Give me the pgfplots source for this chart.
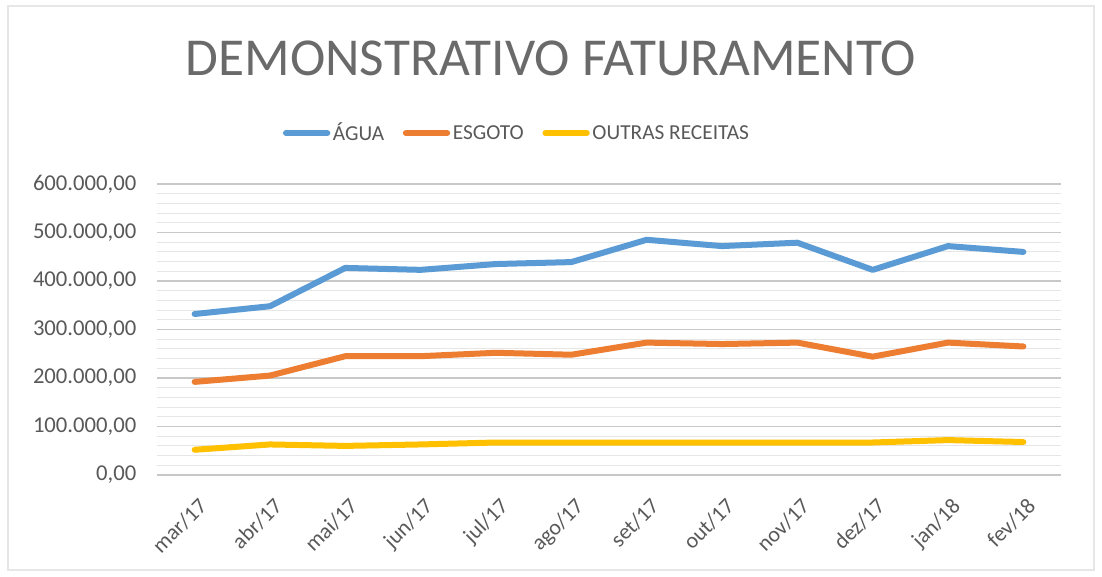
\documentclass[border=0pt]{standalone}
\usepackage{pgfplots}
\pgfplotsset{compat=1.18}
\usepackage{fontspec}
\setmainfont{Carlito}
\definecolor{agua}{HTML}{5B9BD5}
\definecolor{esgoto}{HTML}{ED7D31}
\definecolor{outras}{HTML}{FFC000}
\definecolor{txt}{HTML}{595959}
\definecolor{ttl}{HTML}{6A6A6A}
\definecolor{majgrid}{HTML}{C8C8C8}
\definecolor{mingrid}{HTML}{E6E6E6}
\begin{document}
\begin{tikzpicture}
\fill[white] (0,0) rectangle (826.5pt,432pt);
\draw[color=mingrid, line width=1pt] (6pt,4.5pt) rectangle (820.5pt,427.5pt);
\useasboundingbox (0,0) rectangle (826.5pt,432pt);
\node[font=\fontsize{40}{44}\selectfont, text=ttl] at (413.25pt,388.5pt) {DEMONSTRATIVO FATURAMENTO};
\begin{axis}[
  at={(117.75pt,75.75pt)}, anchor=south west,
  scale only axis, width=678pt, height=218.25pt,
  xmin=-0.5, xmax=11.5, ymin=0, ymax=600000,
  axis line style={draw=none},
  tick style={draw=none},
  scaled y ticks=false,
  xtick={0,...,11},
  xticklabels={mar/17,abr/17,mai/17,jun/17,jul/17,ago/17,set/17,out/17,nov/17,dez/17,jan/18,fev/18},
  x tick label style={yshift=-13pt, xshift=2pt, rotate=45, anchor=north east, font=\fontsize{16.5}{20}\selectfont, text=txt, inner sep=2pt},
  ytick={0,100000,200000,300000,400000,500000,600000},
  yticklabels={{0,00},{100.000,00},{200.000,00},{300.000,00},{400.000,00},{500.000,00},{600.000,00}},
  y tick label style={font=\fontsize{17}{20}\selectfont, text=txt, xshift=-12pt},
  minor y tick num=4,
  ymajorgrids, yminorgrids,
  major grid style={color=majgrid, line width=1pt},
  minor grid style={color=mingrid, line width=0.8pt},
  legend columns=3,
  legend style={draw=none, fill=none, at={(0.3986,1.175)}, anchor=center, font=\fontsize{16}{19}\selectfont, text=txt,
    /tikz/every even column/.append style={column sep=12pt}, legend cell align=left},
  legend image code/.code={\draw[#1, line width=4.5pt, line cap=round] (0pt,0pt) -- (31pt,0pt);},
  every axis plot/.append style={line width=4.5pt, line join=round, line cap=round, mark=none},
]
\addplot[agua] coordinates {(0,332000) (1,348000) (2,427000) (3,423000) (4,435000) (5,439000) (6,485000) (7,472000) (8,479000) (9,423000) (10,472000) (11,460000)};
\addlegendentry{ÁGUA}
\addplot[esgoto] coordinates {(0,192000) (1,205000) (2,245000) (3,245000) (4,252000) (5,248000) (6,273000) (7,270000) (8,273000) (9,244000) (10,273000) (11,265000)};
\addlegendentry{ESGOTO}
\addplot[outras] coordinates {(0,52000) (1,63000) (2,60000) (3,63000) (4,67000) (5,67000) (6,67000) (7,67000) (8,67000) (9,67000) (10,72000) (11,68000)};
\addlegendentry{OUTRAS RECEITAS}
\end{axis}
\end{tikzpicture}
\end{document}
